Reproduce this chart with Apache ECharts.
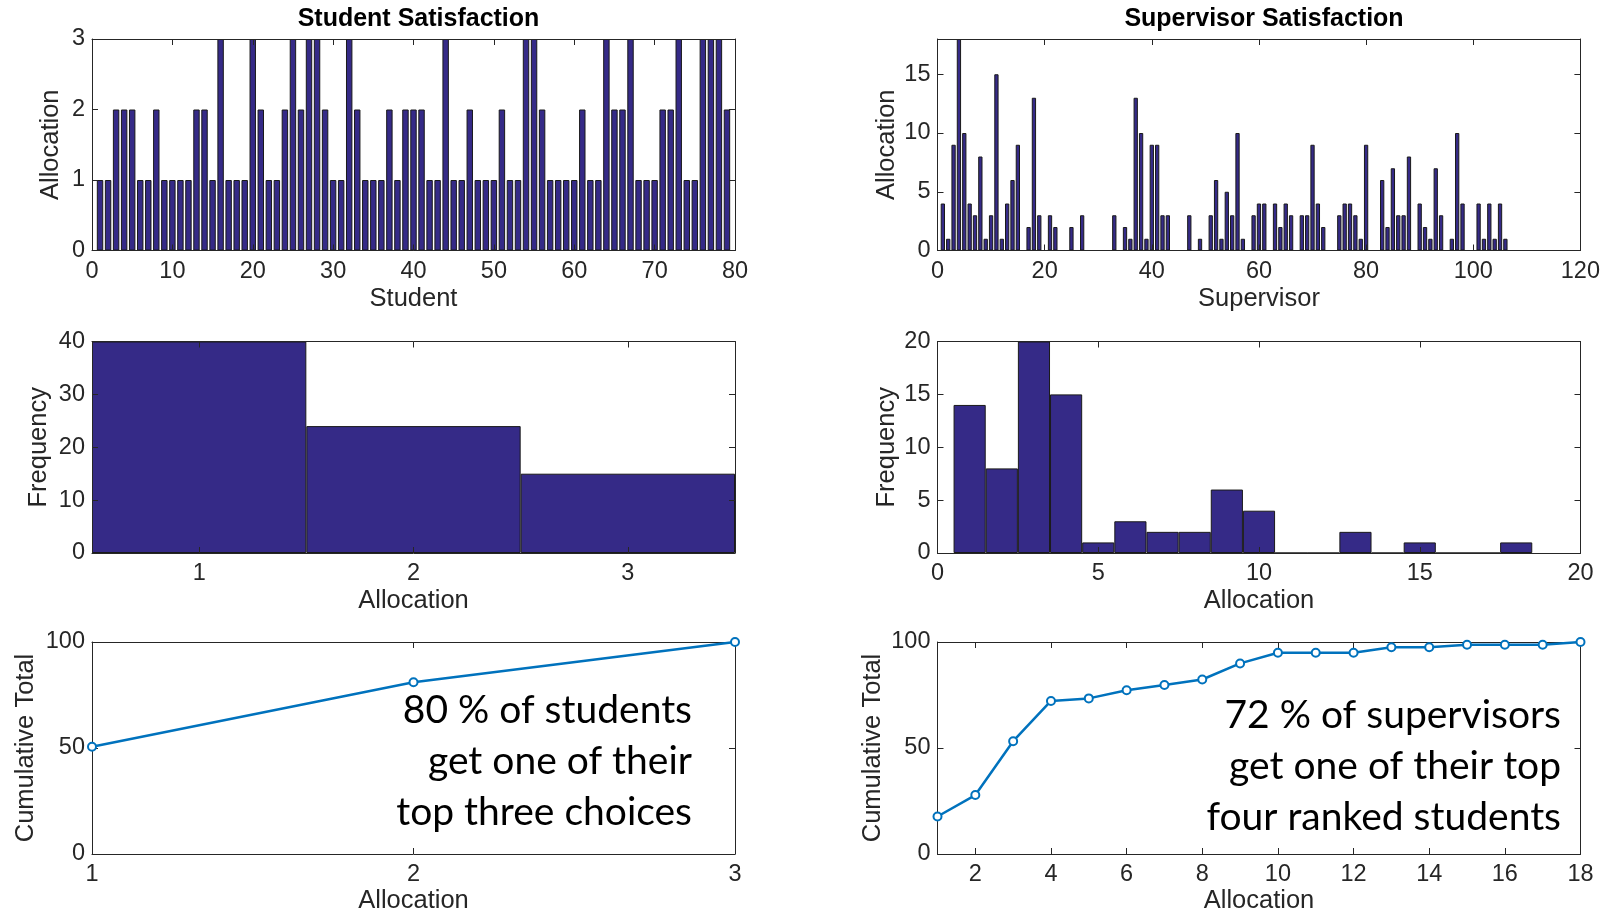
<!DOCTYPE html>
<html><head><meta charset="utf-8">
<script src="https://cdn.jsdelivr.net/npm/echarts@6/dist/echarts.min.js"></script>
<style>html,body{margin:0;padding:0;background:#fff}#c{width:1603px;height:915px}</style>
</head><body><div id="c"></div>
<script>
// ---------- DATA ----------
const studentAllocation = [
  1,1,2,2,2,1,1,2,1,1,
  1,1,2,2,1,3,1,1,1,3,
  2,1,1,2,3,2,3,3,2,1,
  1,3,2,1,1,1,2,1,2,2,
  2,1,1,3,1,1,2,1,1,1,
  2,1,1,3,3,2,1,1,1,1,
  2,1,1,3,2,2,3,1,1,1,
  2,2,3,1,1,3,3,3,2
];
const supervisorAllocation = [
  4,1,9,18,10,4,3,8,1,3,
  15,1,4,6,9,0,2,13,3,0,
  3,2,0,0,2,0,3,0,0,0,
  0,0,3,0,2,1,13,10,1,9,
  9,3,3,0,0,0,3,0,1,0,
  3,6,1,5,3,10,1,0,3,4,
  4,0,4,2,4,3,0,3,3,9,
  4,2,0,0,3,4,4,3,1,9,
  0,0,6,2,7,3,3,8,0,4,
  2,1,7,3,0,1,10,4,0,0,
  4,1,4,1,4,1
];
const studentHistBins = ['1','2','3'];
const studentHistFreq = [40,24,15];
const supHistBins = [1,2,3,4,5,6,7,8,9,10,11,12,13,14,15,16,17,18];
const supHistFreq = [14,8,20,15,1,3,2,2,6,4,0,0,2,0,1,0,0,1];
const studentCumAlloc = [1,2,3];
const studentCum = [50.6,81.0,100];
const supCumAlloc = ['1','2','3','4','5','6','7','8','9','10','11','12','13','14','15','16','17','18'];
const supCum = [17.7,27.8,53.2,72.2,73.4,77.2,79.7,82.3,89.9,94.9,94.9,94.9,97.5,97.5,98.7,98.7,98.7,100];
const annLeft = ['80 % of students','get one of their','top three choices'];
const annRight = ['72 % of supervisors','get one of their top','four ranked students'];

// ---------- STYLE ----------
const AX = '#262626', BAR = '#352A87', LINE = '#0072BD';
const FONT = "'Liberation Sans',Arial,Helvetica,sans-serif";
const FS = 23.5;
const NFS = 25.5;

const grids = [
  {left:92, top:39, width:643, height:211.5},
  {left:937.5, top:39, width:643, height:211.5},
  {left:92, top:341.5, width:643, height:211.5},
  {left:937.5, top:341.5, width:643, height:211.5},
  {left:92, top:642, width:643, height:213.7},
  {left:937.5, top:642, width:643, height:213.7}
];

function axis(o, mirror){
  const a = {
    gridIndex:o.grid, type:o.type||'value', position:o.position,
    min:o.min, max:o.max, interval:o.interval, data:o.data,
    boundaryGap:o.boundaryGap,
    axisLine:{show:true, onZero:false, lineStyle:{color:AX, width:1}},
    axisTick:{show:true, inside:true, length:6, alignWithLabel:true, interval:o.tickInterval, lineStyle:{color:AX, width:1}},
    axisLabel:{show:!mirror, color:AX, fontFamily:FONT, fontSize:FS, margin:o.position==='left'?7:9, interval:o.labelInterval, showMaxLabel:o.showMaxLabel},
    splitLine:{show:false},
    z: 3
  };
  if (!mirror && o.name){
    a.name = o.name; a.nameLocation = 'middle'; a.nameGap = o.nameGap;
    a.nameTextStyle = {color:AX, fontFamily:FONT, fontSize:NFS};
  }
  return a;
}
function xPair(o){ return [axis(Object.assign({position:'bottom'},o),false), axis(Object.assign({},o,{position:'top'}),true)]; }
function yPair(o){ return [axis(Object.assign({position:'left'},o),false), axis(Object.assign({},o,{position:'right'}),true)]; }

const evenOnly = function(i){ return (i+1)%2===0; };

const xAxes = [].concat(
  xPair({grid:0, min:0, max:80, interval:10, name:'Student', nameGap:35}),
  xPair({grid:1, min:0, max:120, interval:20, name:'Supervisor', nameGap:35}),
  xPair({grid:2, type:'category', data:studentHistBins, boundaryGap:true, name:'Allocation', nameGap:35}),
  xPair({grid:3, min:0, max:20, interval:5, name:'Allocation', nameGap:35}),
  xPair({grid:4, min:1, max:3, interval:1, name:'Allocation', nameGap:34}),
  xPair({grid:5, type:'category', data:supCumAlloc, boundaryGap:false, labelInterval:evenOnly, tickInterval:evenOnly, name:'Allocation', nameGap:34})
);
const yAxes = [].concat(
  yPair({grid:0, min:0, max:3, interval:1, name:'Allocation', nameGap:28}),
  yPair({grid:1, min:0, max:18, interval:5, showMaxLabel:false, name:'Allocation', nameGap:38}),
  yPair({grid:2, min:0, max:40, interval:10, name:'Frequency', nameGap:40}),
  yPair({grid:3, min:0, max:20, interval:5, name:'Frequency', nameGap:38}),
  yPair({grid:4, min:0, max:100, interval:50, name:'Cumulative Total', nameGap:53}),
  yPair({grid:5, min:0, max:100, interval:50, name:'Cumulative Total', nameGap:52})
);

const barStyle = {color:BAR, borderColor:'#1a1a1a', borderWidth:1};
const lineSeries = (xi, data) => ({
  type:'line', xAxisIndex:xi, yAxisIndex:xi, data:data,
  symbol:'emptyCircle', symbolSize:8,
  lineStyle:{color:LINE, width:2.5}, itemStyle:{color:LINE, borderColor:LINE, borderWidth:2},
  z:4
});

const series = [
  {type:'bar', xAxisIndex:0, yAxisIndex:0, barWidth:'80%', itemStyle:barStyle,
   data:studentAllocation.map((v,i)=>[i+1,v])},
  {type:'bar', xAxisIndex:2, yAxisIndex:2, barWidth:'80%', itemStyle:barStyle,
   data:supervisorAllocation.map((v,i)=>[i+1,v])},
  {type:'bar', xAxisIndex:4, yAxisIndex:4, barCategoryGap:'0%', itemStyle:barStyle,
   data:studentHistFreq},
  {type:'bar', xAxisIndex:6, yAxisIndex:6, barWidth:'100%', itemStyle:barStyle,
   data:supHistBins.map((b,i)=>[b, supHistFreq[i]])},
  lineSeries(8, studentCumAlloc.map((a,i)=>[a, studentCum[i]])),
  lineSeries(10, supCum)
];

const ANNFONT = "Lato, 'Open Sans', sans-serif";
const graphic = [];
annLeft.forEach((t,i)=>graphic.push({type:'text', x:692, y:710 + i*51, z:10,
  style:{text:t, fill:'#000', font:'39px '+ANNFONT, textAlign:'right', textVerticalAlign:'middle'}}));
annRight.forEach((t,i)=>graphic.push({type:'text', x:1561, y:715 + i*51, z:10,
  style:{text:t, fill:'#000', font:'39px '+ANNFONT, textAlign:'right', textVerticalAlign:'middle'}}));

const chart = echarts.init(document.getElementById('c'));
chart.setOption({
  animation:false,
  backgroundColor:'#fff',
  title:[
    {text:'Student Satisfaction', left:413.5, top:2, textAlign:'center',
     textStyle:{fontFamily:FONT, fontWeight:'bold', fontSize:25, color:'#000'}},
    {text:'Supervisor Satisfaction', left:1259, top:2, textAlign:'center',
     textStyle:{fontFamily:FONT, fontWeight:'bold', fontSize:25, color:'#000'}}
  ],
  grid:grids,
  xAxis:xAxes,
  yAxis:yAxes,
  series:series,
  graphic:graphic
});
</script>
</body></html>
